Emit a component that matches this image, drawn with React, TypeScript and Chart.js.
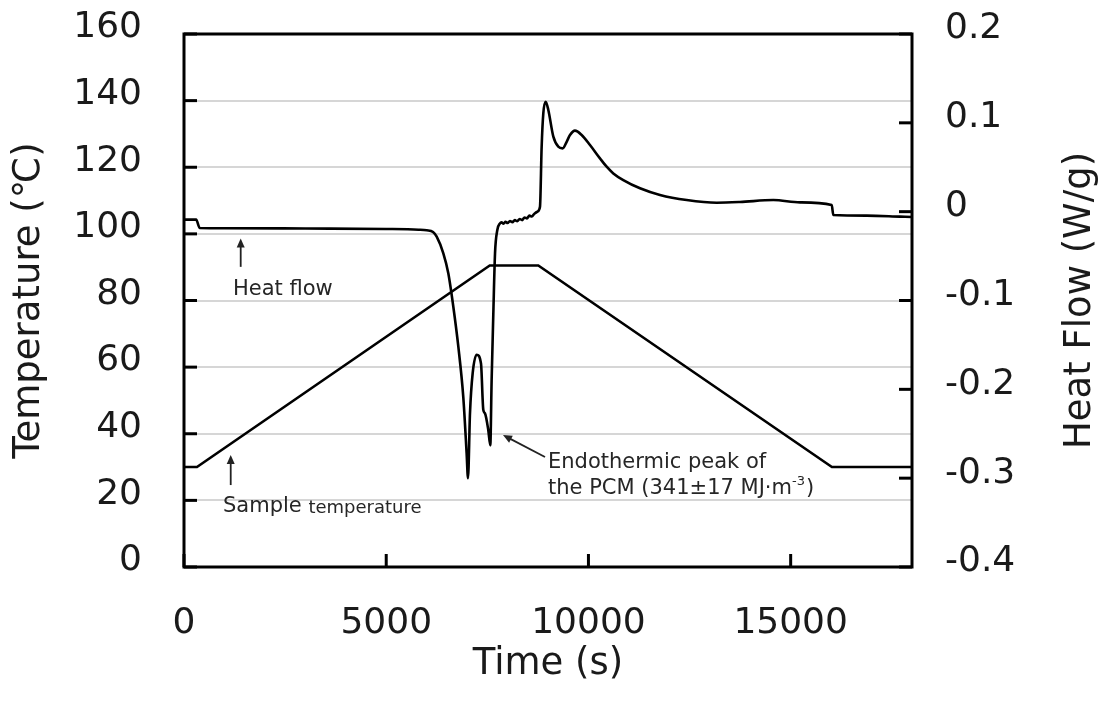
import React, { useEffect, useRef } from 'react';
import { Chart, registerables } from 'chart.js';

Chart.register(...registerables);

// Sample temperature (left axis, °C) vs time (s)
const timeTemp = [0, 320, 7560, 8760, 16020, 18000];
const sampleTemp = [30, 30, 90.5, 90.5, 30, 30];

// Heat flow (right axis, W/g) vs time (s)
const timeHF = [
  0, 300, 390, 1000, 3000, 5000, 5800, 6000, 6157, 6248, 6412, 6535, 6659, 6783, 6906, 6988, 7022,
  7071, 7137, 7236, 7343, 7400, 7442, 7524, 7573, 7606, 7648, 7690, 7747, 7813, 7850, 7900, 7950,
  8000, 8060, 8120, 8180, 8240, 8300, 8360, 8420, 8480, 8540, 8600, 8660, 8736, 8802, 8843, 8884,
  8943, 9008, 9132, 9255, 9362, 9461, 9544, 9667, 9832, 10038, 10285, 10450, 10615, 10862, 11275,
  11769, 12429, 13171, 13747, 14571, 15231, 16015, 16055, 16880, 17703, 18000,
];
const heatFlow = [
  -0.009, -0.009, -0.0184, -0.0186, -0.019, -0.0195, -0.0203, -0.021, -0.0229, -0.0282, -0.0469,
  -0.0694, -0.107, -0.152, -0.209, -0.272, -0.3, -0.227, -0.182, -0.161, -0.171, -0.223, -0.227,
  -0.246, -0.263, -0.19, -0.115, -0.047, -0.0207, -0.0132, -0.012, -0.0135, -0.0115, -0.0128,
  -0.0105, -0.0118, -0.0095, -0.0108, -0.0082, -0.0095, -0.0065, -0.0075, -0.0045, -0.0055,
  -0.0025, 0.0, 0.0056, 0.073, 0.1107, 0.1238, 0.1144, 0.0844, 0.0731, 0.0713, 0.0787, 0.0863,
  0.0912, 0.0863, 0.075, 0.06, 0.0506, 0.0431, 0.0356, 0.0263, 0.0188, 0.0131, 0.0101, 0.0109,
  0.0131, 0.0105, 0.0075, -0.0038, -0.0045, -0.0056, -0.006,
];

// Tick values
const xTicks = [0, 5000, 10000, 15000];
const tempTicks = [0, 20, 40, 60, 80, 100, 120, 140, 160];
const hfTicks = [-0.4, -0.3, -0.2, -0.1, 0, 0.1, 0.2];

const FONT = '"DejaVu Sans", Verdana, sans-serif';
const TEXT = '#1a1a1a';

function drawArrow(ctx: CanvasRenderingContext2D, x1: number, y1: number, x2: number, y2: number) {
  const ang = Math.atan2(y2 - y1, x2 - x1);
  const hl = 9;
  const hw = 4;
  ctx.beginPath();
  ctx.moveTo(x1, y1);
  ctx.lineTo(x2 - Math.cos(ang) * hl * 0.8, y2 - Math.sin(ang) * hl * 0.8);
  ctx.stroke();
  ctx.beginPath();
  ctx.moveTo(x2, y2);
  ctx.lineTo(x2 - Math.cos(ang) * hl + Math.sin(ang) * hw, y2 - Math.sin(ang) * hl - Math.cos(ang) * hw);
  ctx.lineTo(x2 - Math.cos(ang) * hl - Math.sin(ang) * hw, y2 - Math.sin(ang) * hl + Math.cos(ang) * hw);
  ctx.closePath();
  ctx.fill();
}

const framePlugin = {
  id: 'frameAndNotes',
  afterDraw(chart: any) {
    const { ctx, chartArea: a, scales } = chart;
    const xs = scales.x;
    const ys = scales.y;
    const y1 = scales.y1;
    ctx.save();
    ctx.strokeStyle = '#000';
    ctx.lineWidth = 3;
    ctx.lineCap = 'butt';
    // inside ticks
    const tl = 13;
    ys.ticks.forEach((t: any) => {
      const py = ys.getPixelForValue(t.value);
      ctx.beginPath();
      ctx.moveTo(a.left, py);
      ctx.lineTo(a.left + tl, py);
      ctx.stroke();
    });
    y1.ticks.forEach((t: any) => {
      const py = y1.getPixelForValue(t.value);
      ctx.beginPath();
      ctx.moveTo(a.right, py);
      ctx.lineTo(a.right - tl, py);
      ctx.stroke();
    });
    xs.ticks.forEach((t: any) => {
      const px = xs.getPixelForValue(t.value);
      ctx.beginPath();
      ctx.moveTo(px, a.bottom);
      ctx.lineTo(px, a.bottom - tl);
      ctx.stroke();
    });
    // frame
    ctx.strokeRect(a.left, a.top, a.right - a.left, a.bottom - a.top);

    // right axis title (reads bottom to top)
    ctx.fillStyle = TEXT;
    ctx.font = `37px ${FONT}`;
    ctx.textAlign = 'center';
    ctx.textBaseline = 'middle';
    ctx.save();
    ctx.translate(1080, (a.top + a.bottom) / 2);
    ctx.rotate(-Math.PI / 2);
    ctx.fillText('Heat Flow (W/g)', 0, 0);
    ctx.restore();

    // annotations
    const X = (v: number) => xs.getPixelForValue(v);
    const Y = (v: number) => ys.getPixelForValue(v);
    ctx.strokeStyle = '#222';
    ctx.fillStyle = '#222';
    ctx.lineWidth = 1.8;
    drawArrow(ctx, X(1402), Y(90.1), X(1402), Y(98.6));
    drawArrow(ctx, X(1155), Y(24.6), X(1155), Y(33.6));
    drawArrow(ctx, X(8926), Y(33), X(7887), Y(39.6));

    ctx.fillStyle = '#262626';
    ctx.textAlign = 'left';
    ctx.textBaseline = 'middle';
    ctx.font = `21px ${FONT}`;
    ctx.fillText('Heat flow', X(1212), Y(83.2));
    ctx.fillText('Sample', X(964), Y(18));
    const sw = ctx.measureText('Sample ').width;
    ctx.font = `18px ${FONT}`;
    ctx.fillText('temperature', X(964) + sw, Y(18) + 1);

    ctx.font = `21px ${FONT}`;
    ctx.fillText('Endothermic peak of', X(9000), Y(31.5));
    const l2 = 'the PCM (341±17 MJ·m';
    const lx = X(9000);
    const ly = Y(23.7);
    ctx.fillText(l2, lx, ly);
    let w = ctx.measureText(l2).width;
    ctx.font = `13px ${FONT}`;
    ctx.fillText('-3', lx + w, ly - 6);
    w += ctx.measureText('-3').width;
    ctx.font = `21px ${FONT}`;
    ctx.fillText(')', lx + w + 1, ly);
    ctx.restore();
  },
};

export default function App() {
  const ref = useRef<HTMLCanvasElement | null>(null);
  useEffect(() => {
    if (!ref.current) return;
    const tickFont = { family: FONT, size: 36 };
    const chart = new Chart(ref.current, {
      type: 'scatter',
      data: {
        datasets: [
          {
            label: 'Sample temperature',
            data: timeTemp.map((t, i) => ({ x: t, y: sampleTemp[i] })),
            yAxisID: 'y',
            showLine: true,
            borderColor: '#000',
            borderWidth: 2.6,
            pointRadius: 0,
          },
          {
            label: 'Heat flow',
            data: timeHF.map((t, i) => ({ x: t, y: heatFlow[i] })),
            yAxisID: 'y1',
            showLine: true,
            borderColor: '#000',
            borderWidth: 2.6,
            pointRadius: 0,
            cubicInterpolationMode: 'monotone',
          },
        ],
      },
      options: {
        responsive: false,
        animation: false,
        layout: { padding: { top: 34, left: 0, right: 0, bottom: 0 } },
        plugins: { legend: { display: false }, tooltip: { enabled: false } },
        scales: {
          x: {
            type: 'linear',
            min: 0,
            max: 18000,
            afterBuildTicks: (s: any) => {
              s.ticks = xTicks.map((v) => ({ value: v }));
            },
            ticks: {
              font: tickFont,
              color: TEXT,
              padding: 35,
              maxRotation: 0,
              autoSkip: false,
              callback: (v: any) => String(v),
            },
            grid: { display: false, drawTicks: false },
            border: { display: false },
            title: {
              display: true,
              text: 'Time (s)',
              font: { family: FONT, size: 37 },
              color: TEXT,
              padding: { top: 0, bottom: 30 },
            },
            afterFit: (s: any) => {
              s.height = 150;
              s.paddingLeft = 0;
              s.paddingRight = 0;
            },
          },
          y: {
            position: 'left',
            min: 0,
            max: 160,
            afterBuildTicks: (s: any) => {
              s.ticks = tempTicks.map((v) => ({ value: v }));
            },
            ticks: { font: tickFont, color: TEXT, padding: 42, labelOffset: -6, autoSkip: false },
            grid: { color: '#d6d6d6', lineWidth: 2, drawTicks: false },
            border: { display: false },
            title: {
              display: true,
              text: 'Temperature (℃)',
              font: { family: FONT, size: 37 },
              color: TEXT,
              padding: { top: 7, bottom: 0 },
            },
            afterFit: (s: any) => {
              s.width = 184;
              s.paddingTop = 0;
              s.paddingBottom = 0;
            },
          },
          y1: {
            position: 'right',
            min: -0.4,
            max: 0.2,
            afterBuildTicks: (s: any) => {
              s.ticks = hfTicks.map((v) => ({ value: v }));
            },
            ticks: {
              font: tickFont,
              color: TEXT,
              padding: 33,
              labelOffset: -5,
              autoSkip: false,
              callback: (v: any) => String(Math.round(Number(v) * 10) / 10),
            },
            grid: { display: false, drawTicks: false },
            border: { display: false },
            afterFit: (s: any) => {
              s.width = 188;
              s.paddingTop = 0;
              s.paddingBottom = 0;
            },
          },
        },
      },
      plugins: [framePlugin],
    } as any);
    return () => chart.destroy();
  }, []);
  return (
    <div style={{ position: 'fixed', left: 0, top: 0, width: 1100, height: 717, background: '#fff' }}>
      <canvas ref={ref} width={1100} height={717} />
    </div>
  );
}
